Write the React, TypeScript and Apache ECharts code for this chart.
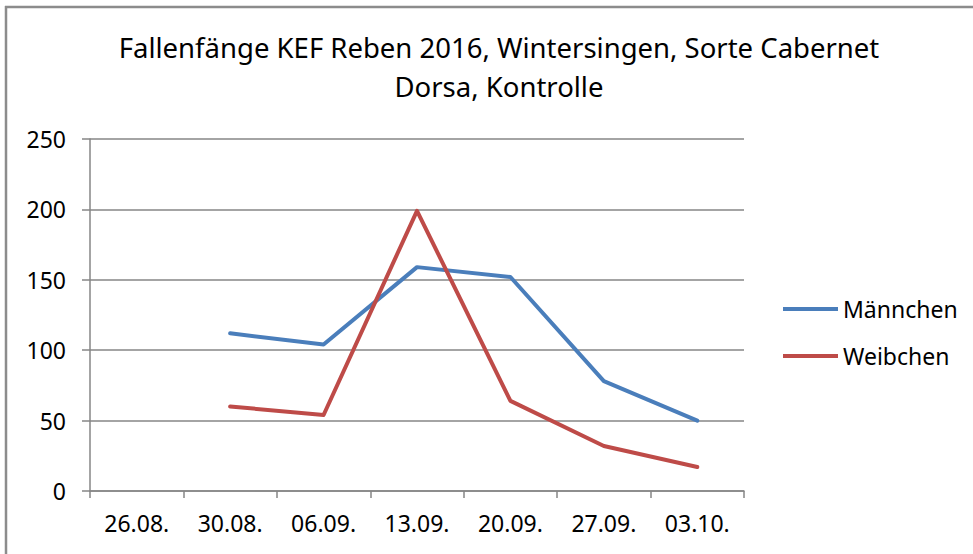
import React, { useEffect, useRef } from "react";
import * as echarts from "echarts";

const titleText = "Fallenfänge KEF Reben 2016, Wintersingen, Sorte Cabernet\nDorsa, Kontrolle";
const categories = ["26.08.", "30.08.", "06.09.", "13.09.", "20.09.", "27.09.", "03.10."];
const maennchen = [null, 112, 104, 159, 152, 78, 50];
const weibchen = [null, 60, 54, 199, 64, 32, 17];
const seriesNames = ["Männchen", "Weibchen"];
const yTicks = { min: 0, max: 250, interval: 50 };

const FONT = "'Noto Sans', sans-serif";

export default function App() {
  const ref = useRef<HTMLDivElement>(null);
  useEffect(() => {
    if (!ref.current) return;
    const chart = echarts.init(ref.current, undefined, { renderer: "svg" });
    chart.setOption({
      animation: false,
      backgroundColor: "#ffffff",
      title: {
        text: titleText,
        left: 494,
        top: 23,
        textAlign: "center",
        textStyle: {
          fontFamily: FONT,
          fontSize: 27.5,
          fontWeight: "normal",
          color: "#000000",
          lineHeight: 39,
        },
      },
      legend: {
        orient: "vertical",
        left: 778,
        top: 290,
        icon: "rect",
        itemWidth: 55,
        itemHeight: 4,
        itemGap: 19,
        data: seriesNames,
        textStyle: { fontFamily: FONT, fontSize: 23, color: "#000000", lineHeight: 28, padding: [0, 0, 0, 0] },
      },
      grid: { left: 90, right: 229, top: 139, bottom: 63 },
      xAxis: {
        type: "category",
        data: categories,
        boundaryGap: true,
        axisLine: { show: true, lineStyle: { color: "#868686", width: 1.5 } },
        axisTick: { show: true, length: 7, lineStyle: { color: "#868686", width: 1.5 } },
        axisLabel: { fontFamily: FONT, fontSize: 23, color: "#000000", margin: 20 },
        splitLine: { show: false },
      },
      yAxis: {
        type: "value",
        min: yTicks.min,
        max: yTicks.max,
        interval: yTicks.interval,
        axisLine: { show: true, lineStyle: { color: "#868686", width: 1.5 } },
        axisTick: { show: true, length: 8, lineStyle: { color: "#868686", width: 1.5 } },
        axisLabel: { fontFamily: FONT, fontSize: 23, color: "#000000", margin: 24 },
        splitLine: { show: true, lineStyle: { color: "#868686", width: 1.5 } },
      },
      series: [
        {
          name: seriesNames[0],
          type: "line",
          data: maennchen,
          showSymbol: false,
          symbol: "none",
          color: "#4A7EBB",
          lineStyle: { color: "#4A7EBB", width: 4, cap: "round", join: "round" },
        },
        {
          name: seriesNames[1],
          type: "line",
          data: weibchen,
          showSymbol: false,
          symbol: "none",
          color: "#BE4B48",
          lineStyle: { color: "#BE4B48", width: 4, cap: "round", join: "round" },
        },
      ],
      graphic: [
        { type: "line", shape: { x1: 5, y1: 7, x2: 973, y2: 7 }, style: { stroke: "#8c8c8c", lineWidth: 2.5 } },
        { type: "line", shape: { x1: 6, y1: 6, x2: 6, y2: 554 }, style: { stroke: "#8c8c8c", lineWidth: 2.5 } },
      ],
    });
    return () => chart.dispose();
  }, []);
  return (
    <div
      ref={ref}
      style={{ position: "fixed", left: 0, top: 0, width: 973, height: 554, background: "#fff" }}
    />
  );
}
